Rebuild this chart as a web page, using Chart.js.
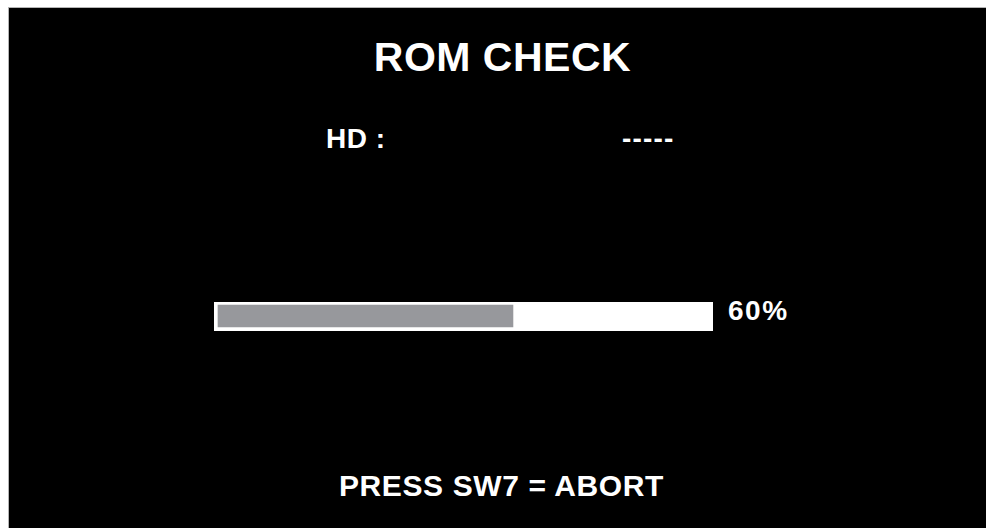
<!DOCTYPE html>
<html>
<head>
<meta charset="utf-8">
<script src="https://cdn.jsdelivr.net/npm/chart.js@4/dist/chart.umd.min.js"></script>
<style>
  html, body { margin: 0; padding: 0; background: #fff; width: 986px; height: 528px; overflow: hidden; }
  #screen {
    position: absolute; left: 8px; top: 7px; width: 978px; height: 521px;
    background: #000; border-left: 1px solid #b4b4b4; border-top: 1px solid #b4b4b4; box-sizing: border-box;
  }
  .txt {
    position: absolute; color: #fff; font-family: "Liberation Sans", Arial, sans-serif;
    font-weight: bold; white-space: nowrap;
  }
  #barBox { position: absolute; left: 214px; top: 302px; width: 499px; height: 29px; }
</style>
</head>
<body>
<div id="screen"></div>
<div class="txt" id="title" style="left:0;width:1005px;text-align:center;top:37px;font-size:41px;line-height:41px;letter-spacing:0.5px;"></div>
<div class="txt" id="hdLabel" style="left:326px;top:125px;font-size:28px;line-height:28px;letter-spacing:0.5px;"></div>
<div class="txt" id="hdValue" style="left:622px;top:125px;font-size:28px;line-height:28px;letter-spacing:1.2px;"></div>
<div id="barBox"><canvas id="progreso"></canvas></div>
<div class="txt" id="pct" style="left:728px;top:297px;font-size:28px;line-height:28px;letter-spacing:1.5px;"></div>
<div class="txt" id="footer" style="left:0;width:1003px;text-align:center;top:471px;font-size:30px;line-height:30px;letter-spacing:0.6px;"></div>

<script>
var titulo = "ROM CHECK";
var etiquetas = ["HD"];
var valores_hd = ["-----"];
var progreso = [60];
var total = [100];
var pie = "PRESS SW7 = ABORT";

document.addEventListener("DOMContentLoaded", function () {
    document.getElementById("title").textContent = titulo;
    document.getElementById("hdLabel").textContent = etiquetas[0] + " :";
    document.getElementById("hdValue").textContent = valores_hd[0];
    document.getElementById("pct").textContent = progreso[0] + "%";
    document.getElementById("footer").textContent = pie;

    var ctx = document.getElementById("progreso").getContext("2d");
    var myChart = new Chart(ctx, {
        type: "bar",
        data: {
            labels: etiquetas,
            datasets: [
                {
                    data: progreso,
                    backgroundColor: "#97989c",
                    borderColor: "#ffffff",
                    borderWidth: { left: 4, top: 3, bottom: 4, right: 0 },
                    borderSkipped: false,
                    order: 0,
                },
                {
                    data: total,
                    backgroundColor: "#ffffff",
                    borderWidth: 0,
                    order: 1,
                },
            ],
        },
        options: {
            indexAxis: "y",
            responsive: true,
            maintainAspectRatio: false,
            animation: false,
            layout: { padding: 0 },
            datasets: {
                bar: { grouped: false, barPercentage: 1, categoryPercentage: 1 },
            },
            scales: {
                x: { display: false, min: 0, max: 100 },
                y: { display: false },
            },
            plugins: {
                legend: { display: false },
                tooltip: { enabled: false },
            },
        },
    });
});
</script>
</body>
</html>
